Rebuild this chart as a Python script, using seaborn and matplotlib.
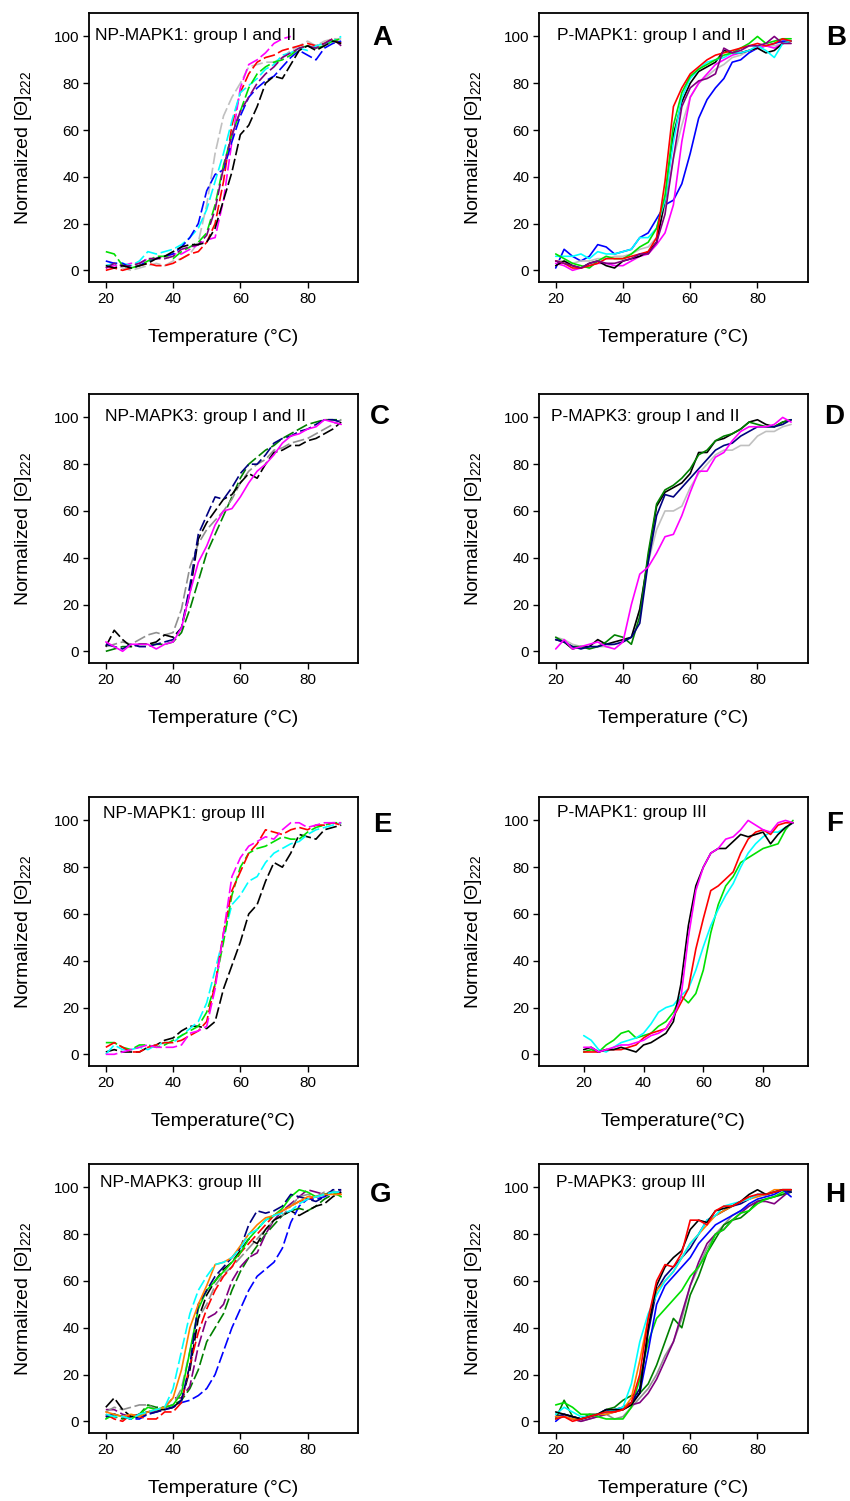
import numpy as np
import pandas as pd
import seaborn as sns
import matplotlib.pyplot as plt

# temperature grid (deg C) shared by all traces
temp = [20, 22.5, 25, 27.5, 30, 32.5, 35, 37.5, 40, 42.5, 45, 47.5, 50, 52.5, 55,
        57.5, 60, 62.5, 65, 67.5, 70, 72.5, 75, 77.5, 80, 82.5, 85, 87.5, 90]
nan = np.nan

# --- A: NP-MAPK1 group I and II (dashed)
a_gray = [2, 3, 1, 0, 1, 2, 3, 2, 4, 5, 7, 12, 28, 50, 66, 74, 80, 87, 88, 89, 89, 91, 94, 96, 98, 96, 98, 99, 99]
a_red = [0, 1, 0, 1, 2, 3, 2, 2, 3, 5, 7, 8, 12, 20, 38, 62, 76, 84, 89, 91, 92, 94, 95, 96, 97, 96, 97, 99, 97]
a_magenta = [1, 2, 2, 3, 3, 5, 5, 6, 7, 7, 9, 11, 13, 14, 30, 55, 78, 88, 90, 93, 97, 99, 100, nan, nan, nan, nan, nan, nan]
a_cyan = [2, 3, 3, 2, 4, 8, 7, 8, 9, 11, 14, 18, 26, 38, 50, 64, 76, 79, 82, 86, 88, 92, 93, 95, 94, 96, 97, 98, 100]
a_blue = [4, 3, 3, 1, 2, 4, 5, 6, 7, 10, 14, 20, 34, 41, 43, 55, 66, 74, 78, 81, 83, 87, 91, 94, 92, 90, 95, 97, 98]
a_green = [8, 7, 2, 1, 2, 4, 6, 6, 5, 8, 10, 12, 16, 28, 45, 58, 68, 78, 84, 87, 89, 90, 92, 95, 96, 95, 96, 98, 99]
a_purple = [1, 3, 2, 2, 3, 5, 5, 5, 6, 9, 10, 11, 15, 26, 44, 58, 68, 74, 80, 84, 87, 91, 93, 95, 96, 95, 97, 99, 96]
a_black = [2, 1, 2, 1, 2, 3, 5, 6, 8, 10, 11, 11, 12, 18, 30, 42, 58, 62, 70, 80, 83, 82, 88, 94, 96, 94, 96, 98, 97]

# --- B: P-MAPK1 group I and II (solid)
b_blue = [1, 9, 6, 4, 6, 11, 10, 7, 8, 9, 14, 16, 22, 28, 30, 37, 50, 65, 73, 78, 82, 89, 90, 93, 95, 96, 97, 98, 98]
b_gray = [4, 4, 3, 4, 4, 5, 5, 6, 6, 7, 9, 10, 14, 28, 48, 62, 74, 80, 83, 86, 88, 91, 92, 94, 95, 96, 96, 97, 98]
b_magenta = [3, 2, 0, 1, 2, 3, 3, 2, 2, 4, 6, 7, 11, 16, 28, 55, 74, 80, 84, 88, 90, 92, 93, 94, 95, 96, 95, 97, 98]
b_black = [2, 4, 2, 1, 3, 4, 2, 1, 4, 5, 6, 8, 12, 30, 58, 72, 80, 85, 87, 89, 94, 93, 93, 94, 95, 93, 94, 97, 98]
b_cyan = [6, 6, 6, 7, 5, 8, 7, 7, 8, 9, 14, 14, 18, 30, 55, 74, 82, 86, 89, 90, 91, 93, 93, 94, 96, 94, 91, 97, 98]
b_green = [7, 5, 3, 2, 1, 4, 6, 5, 5, 7, 10, 12, 18, 32, 62, 76, 83, 86, 88, 90, 92, 93, 95, 97, 100, 97, 98, 99, 99]
b_red = [4, 3, 1, 1, 2, 3, 5, 5, 5, 6, 7, 8, 14, 38, 70, 78, 84, 87, 90, 92, 93, 94, 95, 96, 97, 96, 97, 99, 98]
b_purple = [4, 3, 2, 1, 3, 4, 3, 3, 4, 5, 7, 7, 12, 24, 48, 70, 78, 81, 82, 84, 95, 93, 94, 96, 96, 97, 100, 97, 97]

# --- C: NP-MAPK3 group I and II
c_green = [0, 1, 2, 2, 3, 3, 3, 3, 4, 8, 18, 30, 42, 50, 58, 66, 74, 80, 83, 86, 88, 91, 93, 95, 97, 98, 99, 99, 99]
c_gray = [2, 3, 4, 3, 5, 7, 8, 7, 8, 18, 36, 46, 52, 56, 60, 65, 72, 77, 80, 82, 86, 87, 89, 90, 91, 93, 95, 97, 99]
c_black = [2, 9, 5, 2, 3, 3, 4, 7, 6, 10, 25, 48, 55, 60, 65, 67, 72, 76, 74, 80, 85, 86, 88, 88, 90, 91, 93, 95, 98]
c_navy = [3, 2, 1, 3, 2, 2, 3, 4, 5, 10, 28, 50, 58, 66, 65, 70, 76, 80, 80, 84, 89, 91, 92, 94, 95, 97, 99, 99, 98]
c_magenta = [4, 2, 0, 3, 3, 3, 1, 3, 4, 10, 25, 38, 45, 54, 60, 61, 66, 72, 77, 80, 84, 89, 92, 93, 95, 96, 99, 98, 97]

# --- D: P-MAPK3 group I and II (solid)
d_gray = [6, 5, 3, 2, 2, 2, 2, 3, 4, 6, 18, 38, 52, 60, 60, 62, 70, 76, 80, 84, 86, 86, 88, 88, 92, 94, 94, 96, 97]
d_black = [5, 4, 1, 2, 2, 5, 3, 4, 5, 6, 18, 40, 62, 68, 70, 72, 76, 85, 85, 90, 91, 93, 95, 98, 99, 97, 96, 98, 99]
d_green = [6, 4, 2, 2, 1, 2, 4, 7, 6, 3, 15, 42, 63, 69, 71, 74, 78, 84, 86, 90, 92, 93, 95, 98, 97, 96, 96, 98, 99]
d_navy = [5, 4, 2, 1, 2, 2, 3, 3, 4, 6, 12, 38, 58, 67, 66, 70, 74, 78, 82, 86, 88, 89, 92, 94, 96, 96, 96, 97, 99]
d_magenta = [1, 5, 1, 2, 3, 4, 2, 1, 4, 20, 33, 36, 42, 49, 50, 58, 68, 77, 77, 83, 85, 90, 94, 96, 96, 96, 97, 100, 98]

# --- E: NP-MAPK1 group III (dashed)
e_black = [1, 2, 1, 1, 1, 3, 4, 6, 7, 10, 12, 12, 11, 14, 28, 38, 48, 60, 64, 74, 82, 80, 86, 94, 93, 92, 96, 97, 98]
e_cyan = [0, 4, 2, 2, 3, 2, 4, 5, 5, 8, 11, 14, 22, 36, 50, 64, 68, 74, 76, 82, 86, 88, 90, 91, 94, 96, 97, 98, 99]
e_green = [5, 5, 3, 2, 4, 4, 3, 4, 6, 8, 10, 12, 18, 30, 48, 68, 80, 86, 88, 89, 91, 93, 92, 92, 95, 97, 98, 99, 99]
e_red = [3, 5, 3, 1, 1, 3, 4, 5, 5, 6, 8, 10, 14, 30, 52, 70, 78, 86, 90, 96, 95, 94, 96, 97, 96, 98, 98, 99, 98]
e_magenta = [0, 0, 1, 2, 3, 4, 3, 3, 3, 4, 9, 10, 12, 28, 52, 76, 84, 89, 91, 93, 92, 96, 99, 99, 97, 98, 99, 99, 99]

# --- F: P-MAPK1 group III (solid)
f_green = [1, 2, 1, 4, 6, 9, 10, 7, 8, 9, 12, 14, 18, 25, 22, 26, 36, 52, 64, 72, 76, 82, 84, 86, 88, 89, 90, 96, 100]
f_cyan = [8, 6, 2, 1, 3, 5, 6, 7, 9, 13, 18, 20, 21, 25, 28, 36, 46, 55, 62, 68, 73, 80, 86, 90, 93, 95, 95, 97, 99]
f_red = [1, 1, 1, 2, 2, 2, 3, 4, 7, 9, 10, 11, 16, 22, 28, 45, 58, 70, 72, 75, 78, 86, 92, 95, 96, 94, 98, 99, 99]
f_black = [2, 3, 1, 2, 2, 3, 2, 1, 4, 5, 7, 9, 14, 30, 55, 72, 80, 86, 88, 88, 91, 94, 93, 94, 95, 90, 94, 97, 99]
f_magenta = [3, 3, 1, 2, 3, 4, 4, 5, 6, 8, 9, 11, 16, 24, 50, 70, 80, 86, 88, 92, 93, 96, 100, 98, 96, 95, 99, 100, 99]

# --- G: NP-MAPK3 group III
g_blue = [2, 3, 2, 1, 1, 3, 4, 5, 6, 8, 9, 11, 14, 20, 30, 40, 48, 56, 62, 65, 68, 74, 85, 92, 95, 95, 96, 98, 98]
g_dkgreen = [2, 2, 1, 2, 3, 7, 6, 6, 7, 9, 14, 22, 34, 40, 46, 56, 64, 70, 75, 80, 84, 88, 90, 91, 90, 92, 95, 97, 97]
g_purple = [5, 5, 3, 2, 3, 4, 4, 6, 10, 10, 15, 32, 44, 46, 50, 60, 66, 70, 72, 80, 86, 90, 93, 96, 99, 98, 97, 98, 99]
g_gray = [4, 6, 5, 6, 7, 7, 5, 6, 7, 14, 30, 44, 50, 58, 63, 66, 70, 74, 78, 82, 86, 88, 92, 96, 97, 96, 98, 98, 98]
g_black = [6, 10, 5, 2, 3, 4, 5, 5, 6, 9, 22, 44, 54, 60, 65, 68, 73, 78, 76, 82, 86, 88, 90, 88, 90, 92, 93, 96, 98]
g_red = [3, 1, 0, 3, 2, 1, 1, 4, 4, 8, 24, 38, 48, 56, 62, 66, 72, 76, 80, 84, 88, 90, 92, 94, 95, 96, 97, 98, 97]
g_green = [1, 3, 2, 1, 3, 6, 5, 6, 7, 12, 30, 48, 56, 60, 64, 68, 72, 78, 82, 86, 88, 91, 96, 99, 98, 96, 97, 98, 96]
g_navy = [2, 3, 2, 1, 2, 3, 4, 5, 6, 9, 24, 50, 56, 62, 66, 70, 74, 84, 90, 89, 90, 92, 97, 96, 95, 94, 96, 99, 99]
g_orange = [4, 3, 2, 3, 2, 4, 5, 6, 10, 22, 40, 50, 58, 67, 68, 70, 75, 80, 84, 87, 88, 90, 92, 94, 96, 96, 97, 97, 97]
g_cyan = [3, 2, 2, 1, 3, 4, 5, 6, 14, 30, 46, 56, 62, 67, 68, 70, 74, 80, 82, 86, 88, 89, 90, 93, 95, 96, 97, 98, 98]

# --- H: P-MAPK3 group III (solid)
h_gray = [3, 2, 1, 0, 1, 2, 3, 1, 2, 6, 10, 14, 20, 28, 34, 44, 58, 66, 74, 80, 84, 88, 90, 92, 94, 95, 96, 97, 98]
h_dkgreen = [1, 9, 2, 1, 3, 3, 5, 6, 9, 11, 12, 16, 24, 34, 44, 40, 54, 62, 72, 78, 84, 86, 87, 90, 94, 95, 96, 97, 98]
h_purple = [2, 2, 1, 0, 1, 2, 3, 4, 5, 7, 8, 12, 18, 26, 34, 46, 58, 68, 76, 80, 82, 86, 89, 92, 94, 94, 93, 96, 99]
h_green = [7, 8, 6, 3, 3, 2, 1, 1, 1, 6, 18, 34, 44, 48, 52, 56, 62, 66, 72, 80, 82, 86, 89, 90, 93, 95, 96, 98, 99]
h_blue = [0, 3, 2, 1, 2, 3, 5, 4, 6, 8, 12, 30, 50, 58, 62, 66, 70, 76, 80, 84, 86, 88, 90, 93, 95, 96, 97, 99, 96]
h_navy = [2, 3, 2, 1, 2, 3, 4, 5, 6, 8, 14, 38, 56, 62, 66, 70, 74, 80, 86, 88, 90, 92, 93, 95, 97, 97, 98, 99, 98]
h_orange = [2, 2, 1, 1, 2, 3, 3, 4, 5, 10, 26, 44, 56, 60, 64, 70, 76, 80, 84, 88, 90, 92, 94, 95, 96, 97, 99, 99, 99]
h_cyan = [3, 6, 4, 2, 2, 3, 4, 5, 6, 16, 34, 46, 54, 60, 64, 70, 76, 80, 86, 88, 92, 93, 94, 95, 97, 97, 98, 99, 99]
h_black = [4, 3, 2, 1, 2, 3, 5, 5, 5, 7, 12, 40, 58, 66, 70, 73, 82, 86, 85, 90, 91, 92, 94, 97, 99, 97, 98, 99, 99]
h_red = [1, 2, 0, 1, 2, 3, 4, 4, 5, 8, 20, 44, 60, 67, 66, 72, 86, 86, 84, 90, 92, 92, 94, 96, 97, 97, 98, 99, 99]

titles = ["NP-MAPK1: group I and II", "P-MAPK1: group I and II",
          "NP-MAPK3: group I and II", "P-MAPK3: group I and II",
          "NP-MAPK1: group III", "P-MAPK1: group III",
          "NP-MAPK3: group III", "P-MAPK3: group III"]
letters = ["A", "B", "C", "D", "E", "F", "G", "H"]
xlabels = ["Temperature (°C)"] * 4 + ["Temperature(°C)"] * 2 + ["Temperature (°C)"] * 2

COL = {'black': '#000000', 'red': '#ff0000', 'green': '#00e000', 'blue': '#0000ff',
       'cyan': '#00ffff', 'magenta': '#ff00ff', 'silver': '#c0c0c0', 'gray': '#909090',
       'purple': '#800080', 'navy': '#000080', 'dkgreen': '#008000', 'orange': '#ff8000'}
DASH = (7, 2.2)
SOLID = ''

# (name, values, colour, dashed?)
panels = [
    [('gray', a_gray, 'silver', 1), ('red', a_red, 'red', 1), ('magenta', a_magenta, 'magenta', 1),
     ('cyan', a_cyan, 'cyan', 1), ('blue', a_blue, 'blue', 1), ('green', a_green, 'green', 1),
     ('purple', a_purple, 'purple', 1), ('black', a_black, 'black', 1)],
    [('blue', b_blue, 'blue', 0), ('gray', b_gray, 'silver', 0), ('magenta', b_magenta, 'magenta', 0),
     ('black', b_black, 'black', 0), ('cyan', b_cyan, 'cyan', 0), ('green', b_green, 'green', 0),
     ('red', b_red, 'red', 0), ('purple', b_purple, 'purple', 0)],
    [('green', c_green, 'dkgreen', 1), ('gray', c_gray, 'gray', 1), ('black', c_black, 'black', 1),
     ('navy', c_navy, 'navy', 1), ('magenta', c_magenta, 'magenta', 0)],
    [('gray', d_gray, 'silver', 0), ('black', d_black, 'black', 0), ('green', d_green, 'dkgreen', 0),
     ('navy', d_navy, 'navy', 0), ('magenta', d_magenta, 'magenta', 0)],
    [('black', e_black, 'black', 1), ('cyan', e_cyan, 'cyan', 1), ('green', e_green, 'green', 1),
     ('red', e_red, 'red', 1), ('magenta', e_magenta, 'magenta', 1)],
    [('green', f_green, 'green', 0), ('cyan', f_cyan, 'cyan', 0), ('red', f_red, 'red', 0),
     ('black', f_black, 'black', 0), ('magenta', f_magenta, 'magenta', 0)],
    [('blue', g_blue, 'blue', 1), ('dkgreen', g_dkgreen, 'dkgreen', 1), ('purple', g_purple, 'purple', 1),
     ('gray', g_gray, 'gray', 1), ('black', g_black, 'black', 1), ('red', g_red, 'red', 1),
     ('green', g_green, 'green', 0), ('navy', g_navy, 'navy', 1), ('orange', g_orange, 'orange', 0),
     ('cyan', g_cyan, 'cyan', 1)],
    [('gray', h_gray, 'gray', 0), ('dkgreen', h_dkgreen, 'dkgreen', 0), ('purple', h_purple, 'purple', 0),
     ('green', h_green, 'green', 0), ('blue', h_blue, 'blue', 0), ('navy', h_navy, 'navy', 0),
     ('orange', h_orange, 'orange', 0), ('cyan', h_cyan, 'cyan', 0), ('black', h_black, 'black', 0),
     ('red', h_red, 'red', 0)],
]

sns.set_theme(style='ticks')
plt.rcParams['font.family'] = ['Liberation Sans', 'DejaVu Sans']
plt.rcParams['mathtext.default'] = 'regular'
plt.rcParams['text.color'] = 'black'
plt.rcParams['axes.labelcolor'] = 'black'

fig = plt.figure(figsize=(8.5, 15.01), dpi=100)
lefts = [0.1047, 0.634]
bottoms = [0.8121, 0.5583, 0.2898, 0.0453]
title_pos = [(0.022, 0.915), (0.067, 0.915), (0.06, 0.918), (0.044, 0.918),
             (0.052, 0.94), (0.067, 0.944), (0.041, 0.93), (0.063, 0.93)]
letter_pos = [(1.09, 0.907), (1.104, 0.907), (1.08, 0.914), (1.096, 0.914),
              (1.09, 0.896), (1.10, 0.90), (1.085, 0.885), (1.10, 0.885)]

for i, curves in enumerate(panels):
    ax = fig.add_axes([lefts[i % 2], bottoms[i // 2], 0.3165, 0.1792])
    rows = []
    for name, vals, c, dashed in curves:
        for t, v in zip(temp, vals):
            rows.append({'T': t, 'v': v, 'curve': name})
    df = pd.DataFrame(rows).dropna()
    pal = {n: COL[c] for n, _, c, _ in curves}
    dsh = {n: (DASH if d else SOLID) for n, _, _, d in curves}
    sns.lineplot(data=df, x='T', y='v', hue='curve', style='curve',
                 hue_order=[n for n, *_ in curves], palette=pal, dashes=dsh,
                 estimator=None, sort=False, legend=False, linewidth=1.2, ax=ax)
    ax.set_xlim(5 if i == 5 else 15, 95)
    ax.set_ylim(-5, 110)
    ax.set_xticks([20, 40, 60, 80])
    ax.set_yticks([0, 20, 40, 60, 80, 100])
    ax.tick_params(direction='out', length=4, width=1, labelsize=11, colors='black', pad=3)
    for s in ax.spines.values():
        s.set_linewidth(1.3)
        s.set_color('black')
    ax.set_xlabel(xlabels[i], fontsize=14)
    ax.set_ylabel('Normalized [Θ]$_{222}$', fontsize=14)
    ax.xaxis.set_label_coords(0.5, -0.175)
    ax.yaxis.set_label_coords(-0.205, 0.5)
    ax.text(title_pos[i][0], title_pos[i][1], titles[i], transform=ax.transAxes,
            fontsize=12.5, ha='left', va='center', color='black')
    ax.text(letter_pos[i][0], letter_pos[i][1], letters[i], transform=ax.transAxes,
            fontsize=20, fontweight='bold', ha='center', va='center', color='black')

fig.savefig('out.png', dpi=100)
